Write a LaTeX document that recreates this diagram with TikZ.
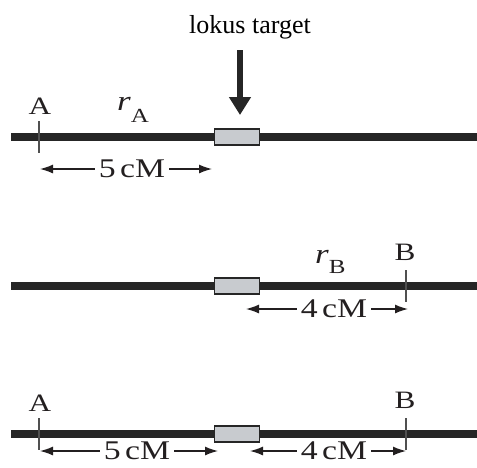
\documentclass[tikz,border=0pt]{standalone}
\usepackage{fontspec}
\setmainfont{Liberation Serif}
\newfontfamily\figfont[FakeStretch=1.25]{Liberation Serif}
\usepackage{tikz}
\usetikzlibrary{arrows.meta}
\definecolor{chromdark}{RGB}{38,38,38}
\definecolor{locusgray}{RGB}{200,203,207}
\definecolor{tickgray}{RGB}{80,80,80}
\definecolor{textdark}{RGB}{35,31,32}
\tikzset{
  chrom/.style={line width=7.5pt, color=chromdark},
  locus/.style={rectangle, draw=chromdark, fill=locusgray,
    minimum width=45pt, minimum height=16pt, inner sep=0pt, line width=1.2pt},
  marker/.style={line width=1.8pt, color=tickgray},
  lbl/.style={font=\figfont\fontsize{25}{25}\selectfont, color=textdark,
    anchor=base, inner sep=0pt},
  dist/.style={font=\figfont\fontsize{27}{27}\selectfont, color=textdark, inner sep=1pt},
  distarrow/.style={-{Latex[length=13pt,width=9pt]}, line width=1.3pt, color=textdark},
  bigarrow/.style={-{Triangle[length=18pt,width=21pt]}, line width=6pt, color=chromdark}
}

\begin{document}
\begin{tikzpicture}[x=1pt, y=-1pt]
  \useasboundingbox (0,0) rectangle (477,467);
  % Target locus
  \node[font=\rmfamily\fontsize{26}{26}\selectfont, anchor=base] (target) at (250,33) {lokus target};
  \coordinate (arrtop) at (240,50);
  \coordinate (arrtip) at (240,115);
  \draw[bigarrow] (arrtop) -- (arrtip);
  % Chromosome 1: marker A
  \coordinate (c1l) at (11,137);
  \coordinate (c1r) at (477,137);
  \node[locus] (locus1) at (237,137) {};
  \draw[chrom] (c1l) -- (locus1.west);
  \draw[chrom] (locus1.east) -- (c1r);
  \coordinate (a1top) at (39,121);
  \coordinate (a1bot) at (39,153);
  \draw[marker] (a1top) -- (a1bot);
  \node[lbl] (labA1) at (40,114) {A};
  \node[lbl, anchor=base west] (rA) at (117,110)
    {\fontsize{28}{28}\selectfont\itshape r\raisebox{-12pt}{\upshape\fontsize{20}{20}\selectfont A}};
  \node[dist] (d1) at (132,169) {5\,cM};
  \coordinate (d1l) at (40,169);
  \coordinate (d1r) at (212,169);
  \draw[distarrow] ([xshift=-3pt]d1.west) -- (d1l);
  \draw[distarrow] ([xshift=3pt]d1.east) -- (d1r);
  % Chromosome 2: marker B
  \coordinate (c2l) at (11,286);
  \coordinate (c2r) at (477,286);
  \node[locus] (locus2) at (237,286) {};
  \draw[chrom] (c2l) -- (locus2.west);
  \draw[chrom] (locus2.east) -- (c2r);
  \coordinate (b2top) at (406,270);
  \coordinate (b2bot) at (406,302);
  \draw[marker] (b2top) -- (b2bot);
  \node[lbl] (labB2) at (405,260) {B};
  \node[lbl, anchor=base west] (rB) at (315,263)
    {\fontsize{28}{28}\selectfont\itshape r\raisebox{-10pt}{\upshape\fontsize{20}{20}\selectfont B}};
  \node[dist] (d2) at (334,309) {4\,cM};
  \coordinate (d2l) at (246,309);
  \coordinate (d2r) at (408,309);
  \draw[distarrow] ([xshift=-3pt]d2.west) -- (d2l);
  \draw[distarrow] ([xshift=3pt]d2.east) -- (d2r);
  % Chromosome 3: markers A and B
  \coordinate (c3l) at (11,434);
  \coordinate (c3r) at (477,434);
  \node[locus] (locus3) at (237,434) {};
  \draw[chrom] (c3l) -- (locus3.west);
  \draw[chrom] (locus3.east) -- (c3r);
  \coordinate (a3top) at (39,418);
  \coordinate (a3bot) at (39,450);
  \draw[marker] (a3top) -- (a3bot);
  \coordinate (b3top) at (406,418);
  \coordinate (b3bot) at (406,450);
  \draw[marker] (b3top) -- (b3bot);
  \node[lbl] (labA3) at (40,411) {A};
  \node[lbl] (labB3) at (405,408) {B};
  \node[dist] (d3) at (137,451) {5\,cM};
  \coordinate (d3l) at (40,451);
  \coordinate (d3r) at (218,451);
  \draw[distarrow] ([xshift=-3pt]d3.west) -- (d3l);
  \draw[distarrow] ([xshift=3pt]d3.east) -- (d3r);
  \node[dist] (d4) at (334,451) {4\,cM};
  \coordinate (d4l) at (250,451);
  \coordinate (d4r) at (406,451);
  \draw[distarrow] ([xshift=-3pt]d4.west) -- (d4l);
  \draw[distarrow] ([xshift=3pt]d4.east) -- (d4r);
\end{tikzpicture}
\end{document}
